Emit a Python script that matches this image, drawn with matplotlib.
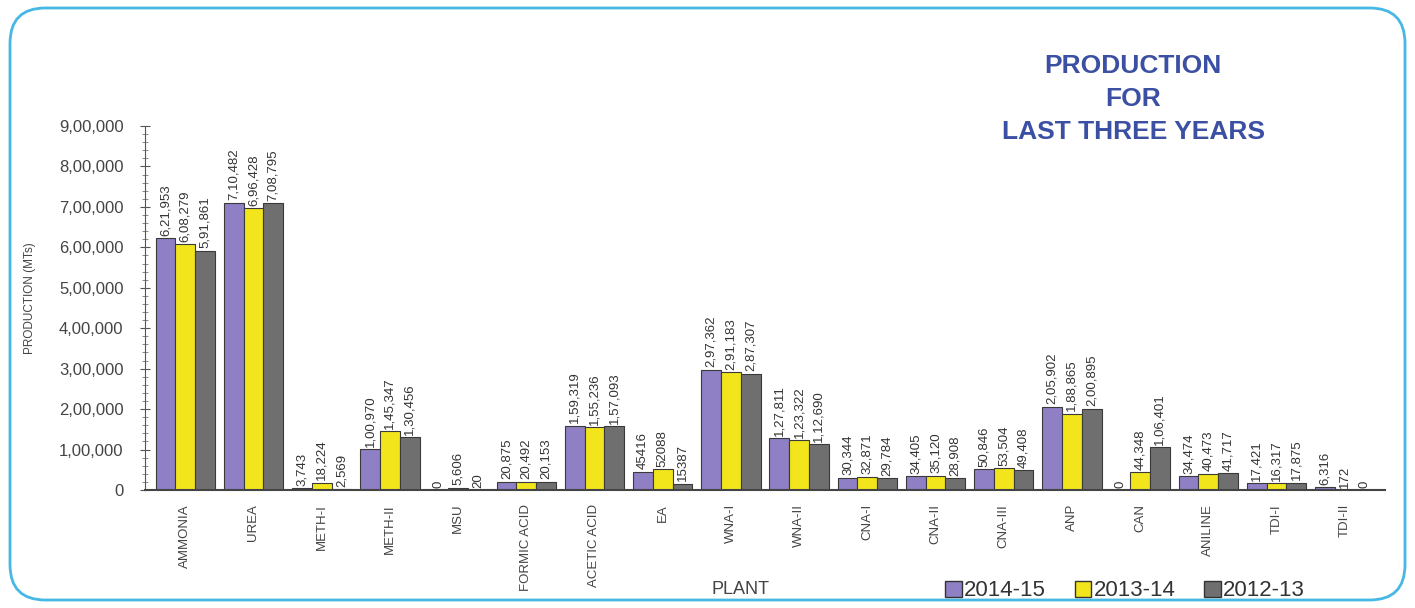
import matplotlib
matplotlib.use("Agg")
import matplotlib.pyplot as plt
from matplotlib.patches import FancyBboxPatch, Patch
import numpy as np

plants = ["AMMONIA", "UREA", "METH-I", "METH-II", "MSU", "FORMIC ACID",
          "ACETIC ACID", "EA", "WNA-I", "WNA-II", "CNA-I", "CNA-II",
          "CNA-III", "ANP", "CAN", "ANILINE", "TDI-I", "TDI-II"]
years = ["2014-15", "2013-14", "2012-13"]
prod_1415 = [621953, 710482, 3743, 100970, 0, 20875, 159319, 45416, 297362,
             127811, 30344, 34405, 50846, 205902, 0, 34474, 17421, 6316]
prod_1314 = [608279, 696428, 18224, 145347, 5606, 20492, 155236, 52088, 291183,
             123322, 32871, 35120, 53504, 188865, 44348, 40473, 16317, 172]
prod_1213 = [591861, 708795, 2569, 130456, 20, 20153, 157093, 15387, 287307,
             112690, 29784, 28908, 49408, 200895, 106401, 41717, 17875, 0]
no_comma = ["EA"]

colors = ["#8f7fc4", "#f3e51c", "#6f6f6f"]
font = "Liberation Sans"


def indian(v):
    s = str(int(v))
    if len(s) <= 3:
        return s
    head, tail = s[:-3], s[-3:]
    parts = []
    while len(head) > 2:
        parts.insert(0, head[-2:])
        head = head[:-2]
    if head:
        parts.insert(0, head)
    return ",".join(parts) + "," + tail


fig = plt.figure(figsize=(14.15, 6.08), dpi=100)

ax = fig.add_axes([145 / 1415, 1 - 490 / 608, 1240 / 1415, 364 / 608])
ax.set_facecolor("none")

x = np.arange(len(plants))
w = 0.29
series = [prod_1415, prod_1314, prod_1213]
for i, vals in enumerate(series):
    xs = x + (i - 1) * w
    ax.bar(xs, vals, w, color=colors[i], edgecolor="#3a3a3a", linewidth=0.8,
           label=years[i])
    for xi, v, name in zip(xs, vals, plants):
        txt = str(v) if name in no_comma else indian(v)
        ax.text(xi, v + 6000, txt, rotation=90, ha="center", va="bottom",
                fontsize=9.5, color="#333333", family=font)

ax.set_xlim(-0.59, len(plants) - 1 + 0.59)
ax.set_ylim(0, 900000)
ax.set_yticks(np.arange(0, 900001, 100000))
ax.set_yticks(np.arange(0, 900001, 20000), minor=True)
ax.set_yticklabels([indian(v) for v in np.arange(0, 900001, 100000)],
                   family=font, fontsize=12, color="#444444")
ax.tick_params(axis="y", which="major", direction="inout", length=7,
               color="#555555", pad=12)
ax.tick_params(axis="y", which="minor", direction="inout", length=4,
               color="#777777")
ax.set_xticks(x)
ax.set_xticklabels(plants, rotation=90, family=font, fontsize=9.5,
                   color="#444444")
ax.tick_params(axis="x", length=0, pad=10)

for s in ["top", "right"]:
    ax.spines[s].set_visible(False)
ax.spines["left"].set_color("#555555")
ax.spines["bottom"].set_color("#444444")
ax.spines["bottom"].set_linewidth(1.5)

fig.text(30 / 1415, 1 - 298 / 608, "PRODUCTION (MTs)", rotation=90,
         ha="center", va="center", fontsize=8.5, color="#444444", family=font)
fig.text(740 / 1415, 1 - 590 / 608, "PLANT", ha="center", va="center",
         fontsize=13, color="#444444", family=font)

fig.text(1133 / 1415, 1 - 99 / 608, "PRODUCTION\nFOR\nLAST THREE YEARS",
         ha="center", va="center", fontsize=19, fontweight="bold",
         color="#3b4fa3", linespacing=1.45, family=font)

handles = [Patch(facecolor=c, edgecolor="#333333", label=y)
           for c, y in zip(colors, years)]
fig.legend(handles=handles, loc="center", bbox_to_anchor=(1125 / 1415, 1 - 591 / 608),
           ncol=3, frameon=False, handlelength=0.75, handleheight=0.75,
           handletextpad=0.1, columnspacing=1.3, labelcolor="#333333",
           prop={"family": font, "size": 16})

border = FancyBboxPatch((10 / 1415, 8 / 608), 1395 / 1415, 592 / 608,
                        boxstyle="round,pad=0,rounding_size=0.025",
                        transform=fig.transFigure, facecolor="none",
                        edgecolor="#45b8e4", linewidth=2, mutation_aspect=1415 / 608)
fig.patches.append(border)

fig.savefig("out.png", dpi=100)
